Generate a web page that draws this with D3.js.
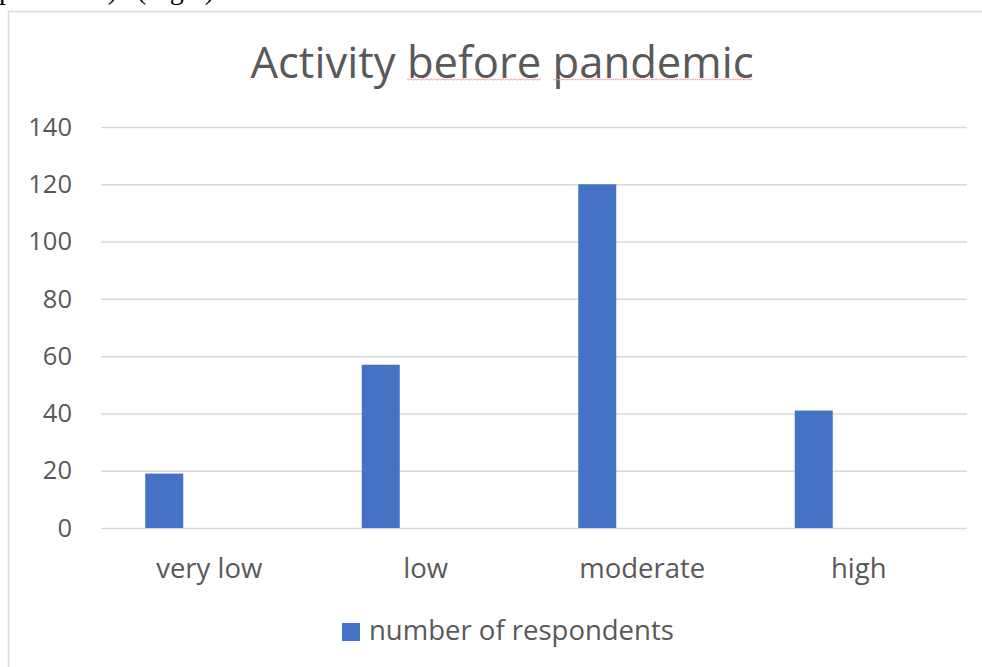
<!DOCTYPE html>
<html>
<head>
<meta charset="utf-8">
<script src="https://cdn.jsdelivr.net/npm/d3@7"></script>
<style>
  html, body { margin: 0; padding: 0; background: #fff; }
  svg { display: block; }
</style>
</head>
<body>
<svg id="chart" width="982" height="667"></svg>
<script>
const categories = ["very low", "low", "moderate", "high"];
const seriesName = "number of respondents";
const values = [19, 57, 120, 41];
const yTicks = [0, 20, 40, 60, 80, 100, 120, 140];
const title = "Activity before pandemic";
const cutTextA = "pandemic)";
const cutTextB = "(Fig.6)";

const W = 982, H = 667;
const svg = d3.select("#chart");
const font = "'Open Sans', 'Noto Sans', sans-serif";
const textColor = "#595959";

// cropped document text at very top (only descenders visible, as in the source image)
const serif = "'Liberation Serif', 'Times New Roman', serif";
svg.append("text")
  .attr("x", -1).attr("y", -1)
  .attr("font-family", serif).attr("font-size", 28).attr("fill", "#000")
  .text(cutTextA);
svg.append("text")
  .attr("x", 137).attr("y", -1)
  .attr("font-family", serif).attr("font-size", 28).attr("fill", "#000")
  .text(cutTextB);

// chart area border
svg.append("path")
  .attr("d", `M8.5,${H} L8.5,11.5 L${W},11.5`)
  .attr("fill", "none")
  .attr("stroke", "#d9d9d9")
  .attr("stroke-width", 1.5);

const plot = { left: 101, right: 967, top: 127, bottom: 528 };

const y = d3.scaleLinear().domain([0, 140]).range([plot.bottom, plot.top]);
const x = d3.scaleBand().domain(categories).range([plot.left, plot.right]);

// gridlines + y labels via axis
const yAxis = d3.axisLeft(y).tickValues(yTicks).tickSize(-(plot.right - plot.left)).tickPadding(29);
const gy = svg.append("g").attr("transform", `translate(${plot.left},0)`).call(yAxis);
gy.select(".domain").remove();
gy.selectAll(".tick line").attr("stroke", "#d9d9d9").attr("stroke-width", 1.5);
gy.selectAll(".tick text")
  .attr("font-family", font).attr("font-size", 25.5).attr("fill", textColor);

// bars (placed left within each category slot)
const barW = 38;
svg.append("g").selectAll("rect")
  .data(values)
  .join("rect")
  .attr("x", (d, i) => x(categories[i]) + x.bandwidth() / 2 - 64)
  .attr("width", barW)
  .attr("y", d => y(d))
  .attr("height", d => y(0) - y(d))
  .attr("fill", "#4472c4");

// x labels via axis
const xAxis = d3.axisBottom(x).tickSize(0).tickPadding(30);
const gx = svg.append("g").attr("transform", `translate(0,${plot.bottom})`).call(xAxis);
gx.select(".domain").remove();
gx.selectAll(".tick text")
  .attr("font-family", font).attr("font-size", 27.5).attr("fill", textColor);

// title
const tg = svg.append("g");
const titleText = tg.append("text")
  .attr("x", 502).attr("y", 78)
  .attr("text-anchor", "middle")
  .attr("font-family", font).attr("font-size", 43.6)
  .attr("fill", textColor);
const words = title.split(" ");
words.forEach((w, i) => {
  titleText.append("tspan").attr("class", "w" + i).text((i ? " " : "") + w);
});
// spell-check squiggles under "before" and "pandemic"
[1, 2].forEach(i => {
  const node = titleText.node();
  const n = node.getNumberOfChars();
  let start = 0;
  for (let k = 0; k < i; k++) start += (k ? 1 : 0) + words[k].length;
  start += 1; // skip space
  const end = start + words[i].length - 1;
  const x0 = node.getStartPositionOfChar(start).x;
  const x1 = node.getEndPositionOfChar(end).x;
  const pts = [];
  for (let xx = x0; xx <= x1; xx += 2) pts.push([xx, 79.5 + ((Math.round((xx - x0) / 2) % 2) ? 0.6 : -0.6)]);
  tg.append("path")
    .attr("d", d3.line()(pts))
    .attr("fill", "none")
    .attr("stroke", "#f3a3a3")
    .attr("stroke-width", 1);
});

// legend
const lg = svg.append("g").attr("transform", "translate(342,623)");
lg.append("rect").attr("width", 18).attr("height", 18).attr("fill", "#4472c4");
lg.append("text").attr("x", 27).attr("y", 17)
  .attr("font-family", font).attr("font-size", 27.5).attr("fill", textColor)
  .text(seriesName);
</script>
</body>
</html>
